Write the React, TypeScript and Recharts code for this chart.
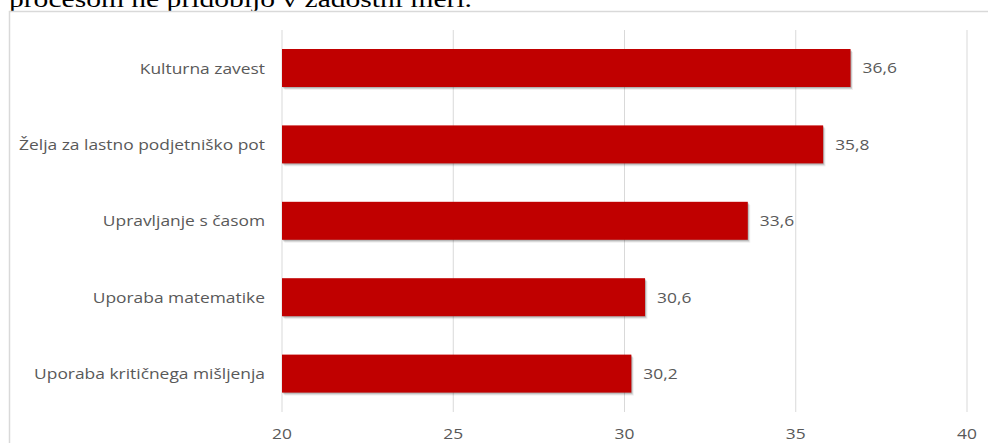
import React from 'react';
import { BarChart, Bar, XAxis, YAxis, CartesianGrid, LabelList } from 'recharts';

const categories = [
  'Kulturna zavest',
  'Želja za lastno podjetniško pot',
  'Upravljanje s časom',
  'Uporaba matematike',
  'Uporaba kritičnega mišljenja',
];
const values = [36.6, 35.8, 33.6, 30.6, 30.2];
const xTicks = [20, 25, 30, 35, 40];
const introText = 'procesom ne pridobijo v zadostni meri.';

const data = categories.map((name, i) => ({ name, value: values[i] }));

const FONT = "'Open Sans', sans-serif";
const TXT = '#595959';
const SX = 1.2;

const ShadowBar = (props: any) => {
  const x = Number(props.x);
  const y = Number(props.y);
  const w = Math.max(0, Number(props.width));
  const h = Math.max(0, Number(props.height));
  return (
    <g>
      <rect x={x + 2.5} y={y + 3} width={w} height={h} fill="rgba(0,0,0,0.06)" />
      <rect x={x + 1.5} y={y + 2} width={w} height={h} fill="rgba(0,0,0,0.12)" />
      <rect x={x + 0.8} y={y + 1} width={w} height={h} fill="rgba(0,0,0,0.15)" />
      <rect x={x} y={y} width={w} height={h} fill="#C00000" />
    </g>
  );
};

const fmt = (v: any) => String(v).replace('.', ',');

const CatTick = (props: any) => {
  const { x, y, payload } = props;
  return (
    <text
      transform={`translate(${x},${y}) scale(${SX},1)`}
      textAnchor="end"
      dominantBaseline="central"
      fill={TXT}
      fontSize={14.5}
      fontFamily={FONT}
    >
      {payload.value}
    </text>
  );
};

const NumTick = (props: any) => {
  const { x, y, payload } = props;
  return (
    <text
      transform={`translate(${x},${y}) scale(${SX},1)`}
      textAnchor="middle"
      dy="0.71em"
      fill={TXT}
      fontSize={14.5}
      fontFamily={FONT}
    >
      {payload.value}
    </text>
  );
};

const ValueLabel = (props: any) => {
  const { x, y, width, height, value } = props;
  const lx = Number(x) + Number(width) + 12;
  const ly = Number(y) + Number(height) / 2;
  return (
    <text
      transform={`translate(${lx},${ly}) scale(${SX},1)`}
      textAnchor="start"
      dominantBaseline="central"
      fill={TXT}
      fontSize={14.5}
      fontFamily={FONT}
    >
      {fmt(value)}
    </text>
  );
};

export default function App() {
  return (
    <div style={{ position: 'absolute', left: 0, top: 0, width: 988, height: 443, background: '#fff', overflow: 'hidden' }}>
      <svg width={988} height={443} style={{ position: 'absolute', left: 0, top: 0 }}>
        <text
          x={9}
          y={7}
          fontFamily="'Liberation Serif', 'Times New Roman', serif"
          fontSize={24}
          fill="#000"
          textLength={463}
          lengthAdjust="spacingAndGlyphs"
        >
          {introText}
        </text>
        <rect x={9.5} y={11.5} width={1000} height={500} fill="none" stroke="#d9d9d9" strokeWidth={1.5} />
      </svg>
      <div style={{ position: 'absolute', left: 0, top: 0 }}>
        <BarChart
          width={988}
          height={443}
          data={data}
          layout="vertical"
          margin={{ top: 30, right: 21, bottom: 0, left: 0 }}
          barSize={38}
        >
          <CartesianGrid horizontal={false} vertical stroke="#d9d9d9" />
          <XAxis
            type="number"
            domain={[20, 40]}
            ticks={xTicks}
            axisLine={false}
            tickLine={false}
            tickSize={0}
            tickMargin={17}
            height={31}
            tick={<NumTick />}
          />
          <YAxis
            type="category"
            dataKey="name"
            width={282}
            axisLine={false}
            tickLine={false}
            tickSize={0}
            tickMargin={17}
            tick={<CatTick />}
          />
          <Bar dataKey="value" fill="#C00000" isAnimationActive={false} shape={ShadowBar}>
            <LabelList dataKey="value" content={<ValueLabel />} />
          </Bar>
        </BarChart>
      </div>
    </div>
  );
}
